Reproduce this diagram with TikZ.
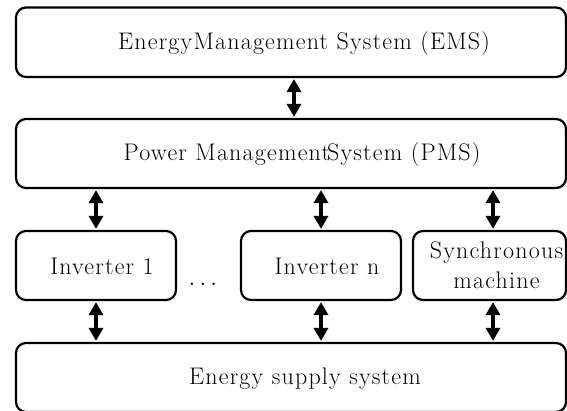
\documentclass[tikz,border=0pt]{standalone}
\usepackage{fontspec}
\usetikzlibrary{arrows.meta}
\newfontfamily\boxfont[LetterSpace=5]{Latin Modern Roman}
\begin{document}
\begin{tikzpicture}[x=1pt,y=-1pt,
  box/.style={draw,line width=2.2pt,rounded corners=10pt,inner sep=0pt},
  lbl/.style={font=\boxfont\fontsize{24}{30}\selectfont,align=center,inner sep=0pt},
  biarrow/.style={line width=4.5pt,{Triangle[length=13pt,width=14pt]}-{Triangle[length=13pt,width=14pt]},shorten <=1pt,shorten >=1pt}]
\useasboundingbox (0,0) rectangle (567,410);
% boxes
\node[box,minimum width=550pt,minimum height=69.5pt] (ems) at (291,42.25) {};
\node[box,minimum width=550pt,minimum height=69pt] (pms) at (291,153.5) {};
\node[box,minimum width=160pt,minimum height=69pt] (inv1) at (96,265.5) {};
\node[box,minimum width=160pt,minimum height=69pt] (invn) at (321,265.5) {};
\node[box,minimum width=153pt,minimum height=69pt] (sync) at (489.5,265.5) {};
\node[box,minimum width=550pt,minimum height=69pt] (ess) at (291,377.5) {};
% labels
\node[lbl] (emst) at ([xshift=13pt,yshift=-1pt]ems.center) {EnergyManagement System (EMS)};
\node[lbl] (pmst) at ([xshift=11pt,yshift=-1pt]pms.center) {Power Management\kern-3pt System (PMS)};
\node[lbl] (inv1t) at ([xshift=6pt,yshift=-1pt]inv1.center) {Inverter 1};
\node[lbl] (invnt) at ([xshift=6pt,yshift=-1pt]invn.center) {Inverter n};
\node[lbl] (synct) at ([xshift=7pt,yshift=0pt]sync.center) {Synchronous\\machine};
\node[lbl] (esst) at ([xshift=14pt,yshift=-1pt]ess.center) {Energy supply system};
\node[font=\fontsize{24}{30}\selectfont,inner sep=0pt,anchor=base] (dots) at (203,285) {$\ldots$};
% connections
\draw[biarrow] ([xshift=3pt]ems.south) -- ([xshift=3pt]pms.north);
\draw[biarrow] (inv1.north |- pms.south) -- (inv1.north);
\draw[biarrow] (invn.north |- pms.south) -- (invn.north);
\draw[biarrow] ([xshift=3.5pt]sync.north |- pms.south) -- ([xshift=3.5pt]sync.north);
\draw[biarrow] (inv1.south) -- (inv1.south |- ess.north);
\draw[biarrow] (invn.south) -- (invn.south |- ess.north);
\draw[biarrow] ([xshift=3.5pt]sync.south) -- ([xshift=3.5pt]sync.south |- ess.north);
\end{tikzpicture}
\end{document}
